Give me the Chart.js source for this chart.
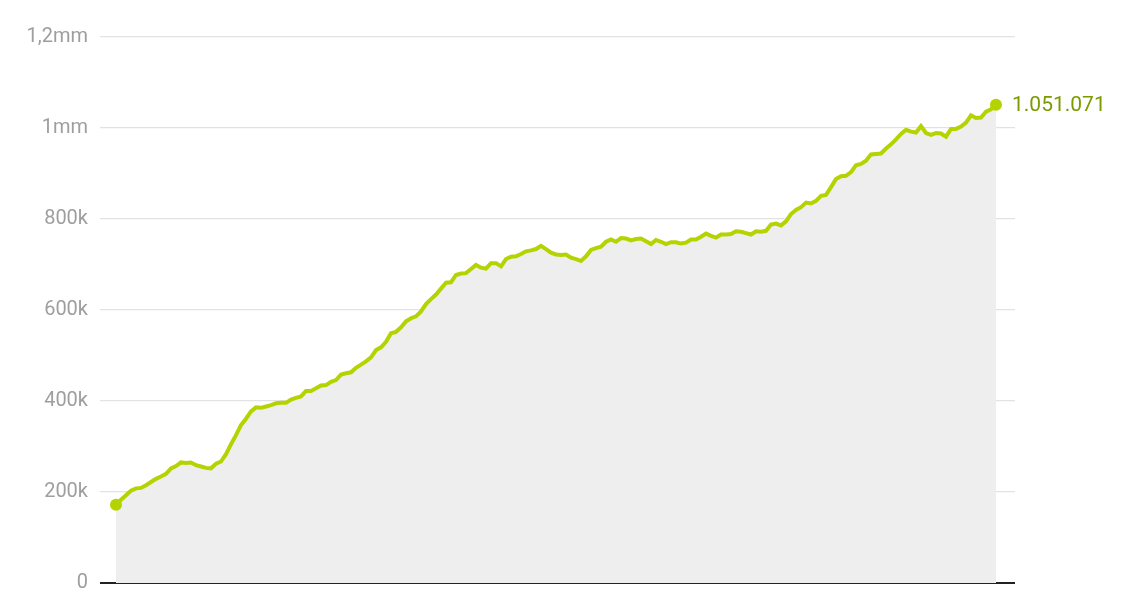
<!DOCTYPE html>
<html>
<head>
<meta charset="utf-8">
<script src="https://cdn.jsdelivr.net/npm/chart.js@4.4.1/dist/chart.umd.min.js"></script>
<style>
  html, body { margin: 0; padding: 0; background: #fff; overflow: hidden; }
  #wrap { width: 1128px; height: 607px; position: relative; }
</style>
</head>
<body>
<div id="wrap"><canvas id="chart"></canvas></div>
<script>
// values in thousands
const totals = [
  172, 183, 193, 203, 208, 209, 215, 222, 229, 234,
  240, 252, 257, 265, 264, 265, 259, 256, 253, 252,
  262, 267, 283, 305, 325, 347, 361, 377, 386, 385,
  388, 391, 395, 396, 396, 403, 407, 410, 422, 422,
  428, 434, 435, 442, 446, 458, 461, 463, 473, 480,
  487, 496, 512, 518, 530, 549, 552, 562, 575, 582,
  586, 597, 613, 624, 634, 647, 660, 661, 677, 680,
  681, 690, 699, 693, 691, 703, 703, 696, 712, 717,
  718, 723, 729, 731, 734, 741, 734, 726, 722, 721,
  722, 715, 712, 708, 718, 732, 736, 739, 750, 755,
  750, 758, 757, 753, 756, 757, 751, 745, 754, 750,
  745, 749, 749, 746, 748, 755, 755, 761, 768, 763,
  759, 766, 766, 767, 773, 772, 769, 766, 773, 772,
  774, 788, 790, 786, 795, 811, 820, 826, 836, 834,
  840, 851, 853, 870, 888, 894, 895, 903, 918, 921,
  928, 942, 943, 944, 955, 964, 975, 987, 996, 992,
  990, 1004, 989, 985, 989, 988, 981, 998, 998, 1003,
  1012, 1028, 1022, 1023, 1036, 1041, 1051.071
];
const lastLabel = "1.051.071";
const yTicks = [0, 200, 400, 600, 800, 1000, 1200];
const yTickLabels = ["0", "200k", "400k", "600k", "800k", "1mm", "1,2mm"];

const lineColor = "#b5d300";
const points = totals.map((v, i) => ({ x: i, y: v }));
const lastIdx = totals.length - 1;

const endLabel = {
  id: "endLabel",
  afterDatasetsDraw(chart) {
    const meta = chart.getDatasetMeta(0);
    const pt = meta.data[lastIdx];
    const ctx = chart.ctx;
    ctx.save();
    ctx.font = "21px Roboto";
    ctx.fillStyle = "#7a9a00";
    ctx.textAlign = "left";
    ctx.textBaseline = "middle";
    ctx.fillText(lastLabel, pt.x + 16, pt.y + 1);
    ctx.restore();
  }
};

new Chart(document.getElementById("chart"), {
  type: "line",
  data: {
    datasets: [{
      data: points,
      borderColor: lineColor,
      borderWidth: 4,
      backgroundColor: "#eeeeee",
      fill: "origin",
      tension: 0,
      pointRadius: ctx => (ctx.dataIndex === 0 || ctx.dataIndex === lastIdx) ? 6 : 0,
      pointBackgroundColor: lineColor,
      pointBorderWidth: 0,
      pointHoverRadius: 0
    }]
  },
  options: {
    responsive: true,
    maintainAspectRatio: false,
    animation: false,
    layout: { padding: { left: 0, right: 113, top: 37, bottom: 0 } },
    plugins: { legend: { display: false }, tooltip: { enabled: false } },
    scales: {
      x: {
        type: "linear",
        display: false,
        min: -3.2,
        max: lastIdx + 3.8
      },
      y: {
        min: 0,
        max: 1200,
        afterFit(scale) { scale.width = 100; },
        afterBuildTicks(scale) { scale.ticks = yTicks.map(v => ({ value: v })); },
        border: { display: false },
        grid: {
          drawTicks: false,
          color: ctx => ctx.tick && ctx.tick.value === 0 ? "#222" : "#e2e2e2",
          lineWidth: ctx => ctx.tick && ctx.tick.value === 0 ? 2 : 1.3
        },
        ticks: {
          padding: 12,
          color: "#9e9e9e",
          font: { family: "Roboto", size: 20 },
          callback: v => yTickLabels[yTicks.indexOf(v)]
        }
      }
    }
  },
  plugins: [endLabel]
});
</script>
</body>
</html>
